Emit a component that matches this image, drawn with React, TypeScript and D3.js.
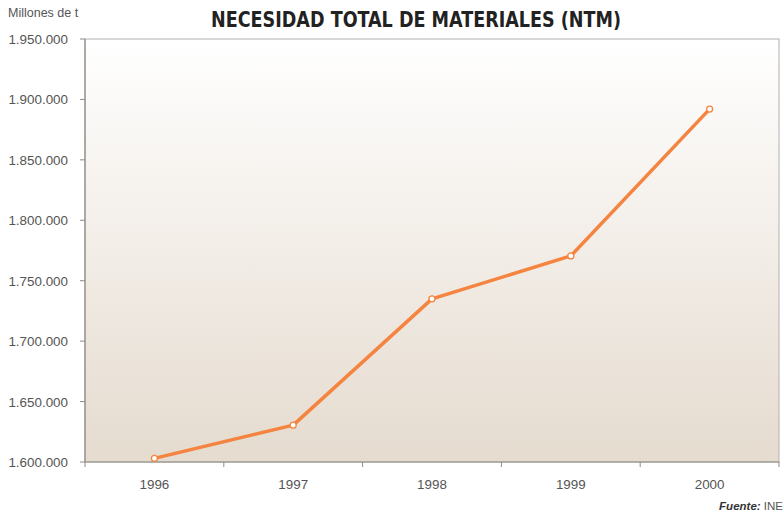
import * as d3 from "d3";
import React, { useEffect, useRef } from "react";

const years = ["1996", "1997", "1998", "1999", "2000"];
const ntmValues = [1603000, 1630500, 1735000, 1770500, 1892000];
const yTicks = [1600000, 1650000, 1700000, 1750000, 1800000, 1850000, 1900000, 1950000];

const fmt = (v: number) => d3.format(",")(v).replace(/,/g, ".");

const App = () => {
  const ref = useRef<SVGSVGElement>(null);

  useEffect(() => {
    const svg = d3.select(ref.current);
    svg.selectAll("*").remove();

    const left = 85;
    const right = 779;
    const top = 39;
    const bottom = 462;
    const font = "'Liberation Sans', Arial, sans-serif";

    const x = d3.scaleBand().domain(years).range([left, right]);
    const y = d3.scaleLinear().domain([1600000, 1950000]).range([bottom, top]);

    const defs = svg.append("defs");
    const grad = defs
      .append("linearGradient")
      .attr("id", "bg")
      .attr("x1", 0)
      .attr("y1", 0)
      .attr("x2", 0)
      .attr("y2", 1);
    grad.append("stop").attr("offset", "0%").attr("stop-color", "#ffffff");
    grad.append("stop").attr("offset", "100%").attr("stop-color", "#e5dbcf");

    svg
      .append("rect")
      .attr("x", left)
      .attr("y", top)
      .attr("width", right - left)
      .attr("height", bottom - top)
      .attr("fill", "url(#bg)")
      .attr("stroke", "#b4b0ab")
      .attr("stroke-width", 1);

    // axis lines
    svg
      .append("line")
      .attr("x1", left)
      .attr("x2", left)
      .attr("y1", top)
      .attr("y2", bottom)
      .attr("stroke", "#8f8b86")
      .attr("stroke-width", 1.2);
    svg
      .append("line")
      .attr("x1", left)
      .attr("x2", right)
      .attr("y1", bottom)
      .attr("y2", bottom)
      .attr("stroke", "#8f8b86")
      .attr("stroke-width", 1.2);

    // y ticks
    svg
      .selectAll(".ytick")
      .data(yTicks)
      .enter()
      .append("line")
      .attr("x1", left - 5)
      .attr("x2", left)
      .attr("y1", (d) => y(d))
      .attr("y2", (d) => y(d))
      .attr("stroke", "#8f8b86");
    svg
      .selectAll(".ylabel")
      .data(yTicks)
      .enter()
      .append("text")
      .attr("x", 68)
      .attr("y", (d) => y(d) + 5)
      .attr("text-anchor", "end")
      .attr("font-family", font)
      .attr("font-size", 13.4)
      .attr("fill", "#555")
      .text((d) => fmt(d));

    // x ticks at band edges
    const edges = years.map((yr) => x(yr) as number).concat([right]);
    svg
      .selectAll(".xtick")
      .data(edges)
      .enter()
      .append("line")
      .attr("x1", (d) => d)
      .attr("x2", (d) => d)
      .attr("y1", bottom)
      .attr("y2", bottom + 5)
      .attr("stroke", "#8f8b86");
    svg
      .selectAll(".xlabel")
      .data(years)
      .enter()
      .append("text")
      .attr("x", (d) => (x(d) as number) + x.bandwidth() / 2)
      .attr("y", 489)
      .attr("text-anchor", "middle")
      .attr("font-family", font)
      .attr("font-size", 13.4)
      .attr("fill", "#555")
      .text((d) => d);

    const pts = years.map((yr, i) => [(x(yr) as number) + x.bandwidth() / 2, y(ntmValues[i])] as [number, number]);

    svg
      .append("path")
      .attr("d", d3.line()(pts))
      .attr("fill", "none")
      .attr("stroke", "#f4843f")
      .attr("stroke-width", 3.5)
      .attr("stroke-linejoin", "round");

    svg
      .selectAll(".dot")
      .data(pts)
      .enter()
      .append("circle")
      .attr("cx", (d) => d[0])
      .attr("cy", (d) => d[1])
      .attr("r", 3)
      .attr("fill", "#fff")
      .attr("stroke", "#f4843f")
      .attr("stroke-width", 1.3);

    // title and notes
    svg
      .append("text")
      .attr("x", 416)
      .attr("y", 27)
      .attr("text-anchor", "middle")
      .attr("font-family", "'DejaVu Sans Condensed', 'Liberation Sans', sans-serif")
      .attr("font-weight", "bold")
      .attr("font-size", 21)
      .attr("textLength", 410)
      .attr("lengthAdjust", "spacingAndGlyphs")
      .attr("fill", "#222")
      .text("NECESIDAD TOTAL DE MATERIALES (NTM)");

    svg
      .append("text")
      .attr("x", 8)
      .attr("y", 17)
      .attr("font-family", font)
      .attr("font-size", 12.5)
      .attr("fill", "#555")
      .text("Millones de t");

    const src = svg
      .append("text")
      .attr("x", 783)
      .attr("y", 510)
      .attr("text-anchor", "end")
      .attr("font-family", font)
      .attr("font-size", 11.5)
      .attr("fill", "#333");
    src.append("tspan").attr("font-weight", "bold").attr("font-style", "italic").text("Fuente:");
    src.append("tspan").attr("fill", "#555").text(" INE");
  }, []);

  return (
    <svg
      ref={ref}
      width={783}
      height={512}
      style={{ position: "absolute", left: 0, top: 0, display: "block" }}
    />
  );
};

export default App;
